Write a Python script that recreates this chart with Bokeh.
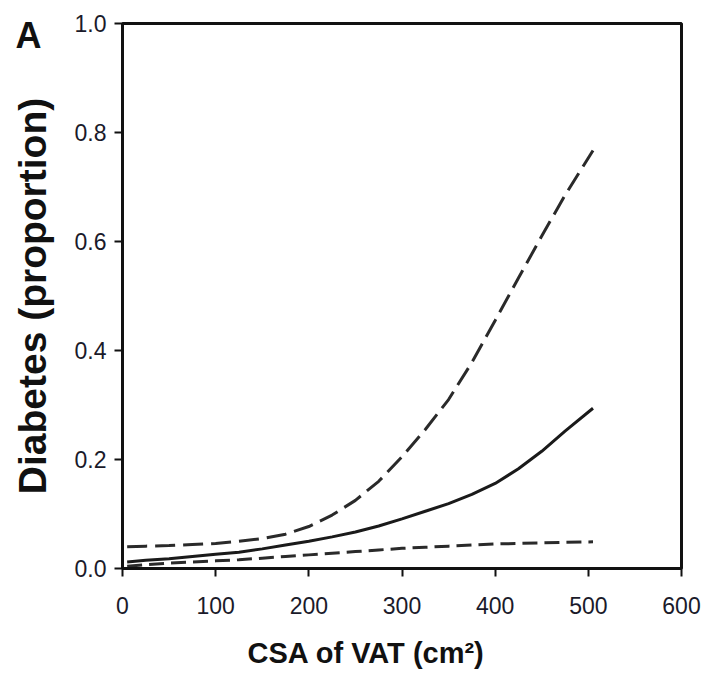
from bokeh.plotting import figure
from bokeh.models import Range1d, FixedTicker, Title, NumeralTickFormatter
from bokeh.embed import file_html
from bokeh.resources import INLINE

# Data
vat = [5, 25, 50, 75, 100, 125, 150, 175, 200, 225, 250, 275, 300, 325, 350, 375, 400, 425, 450, 475, 505]
est = [0.012, 0.015, 0.018, 0.022, 0.026, 0.030, 0.036, 0.043, 0.050, 0.058, 0.067, 0.078, 0.091,
       0.105, 0.119, 0.136, 0.156, 0.183, 0.215, 0.252, 0.294]
upper = [0.040, 0.041, 0.042, 0.044, 0.046, 0.050, 0.055, 0.063, 0.077, 0.098, 0.125, 0.160, 0.205,
         0.255, 0.310, 0.378, 0.455, 0.533, 0.610, 0.685, 0.767]
lower = [0.004, 0.007, 0.010, 0.012, 0.014, 0.016, 0.019, 0.022, 0.025, 0.028, 0.031, 0.034, 0.037,
         0.039, 0.041, 0.043, 0.045, 0.046, 0.047, 0.048, 0.049]
x_ticks = [0, 100, 200, 300, 400, 500, 600]
y_ticks = [0.0, 0.2, 0.4, 0.6, 0.8, 1.0]

SANS = "Liberation Sans, Arial, sans-serif"

p = figure(width=702, height=686, output_backend="svg", toolbar_location=None,
           x_range=Range1d(0, 600), y_range=Range1d(0, 1),
           min_border_left=122, min_border_right=21, min_border_top=23, min_border_bottom=117)

p.grid.visible = False
p.background_fill_color = "white"
p.border_fill_color = "white"
p.outline_line_color = "#111111"
p.outline_line_width = 3

for ax in (p.xaxis[0], p.yaxis[0]):
    ax.axis_line_width = 3
    ax.axis_line_color = "#111111"
    ax.major_tick_line_width = 2
    ax.major_tick_line_color = "#111111"
    ax.major_tick_out = 8
    ax.major_tick_in = 0
    ax.minor_tick_line_color = None
    ax.major_label_text_font = SANS
    ax.major_label_text_font_size = "23px"
    ax.major_label_text_color = "#1a1a2a"
    ax.axis_label_text_font_style = "bold"
    ax.axis_label_text_color = "#111111"

p.xaxis.ticker = FixedTicker(ticks=x_ticks)
p.yaxis.ticker = FixedTicker(ticks=y_ticks)
p.yaxis.formatter = NumeralTickFormatter(format="0.0")
p.xaxis.major_label_standoff = 20
p.yaxis.major_label_standoff = 8

p.yaxis.axis_label = "Diabetes (proportion)"
p.yaxis.axis_label_text_font = SANS
p.yaxis.axis_label_text_font_size = "39px"
p.yaxis.axis_label_standoff = 18

p.line(vat, upper, line_color="#2a2a2a", line_width=3, line_dash="20 8")
p.line(vat, lower, line_color="#2a2a2a", line_width=3, line_dash="15 7")
p.line(vat, est, line_color="#1a1a1a", line_width=3)

# x-axis title, placed left of centre as in the reference
xtitle = Title(text="CSA of VAT (cm²)", align="left", offset=125, standoff=36,
               text_font=SANS, text_font_size="29px", text_font_style="bold",
               text_color="#111111")
p.add_layout(xtitle, "below")

# panel letter
ptitle = Title(text="A", align="left", offset=-107, standoff=-64,
               text_font=SANS, text_font_size="36px", text_font_style="bold",
               text_color="#111111")
p.add_layout(ptitle, "above")

open("out.html", "w").write(file_html(p, INLINE))
